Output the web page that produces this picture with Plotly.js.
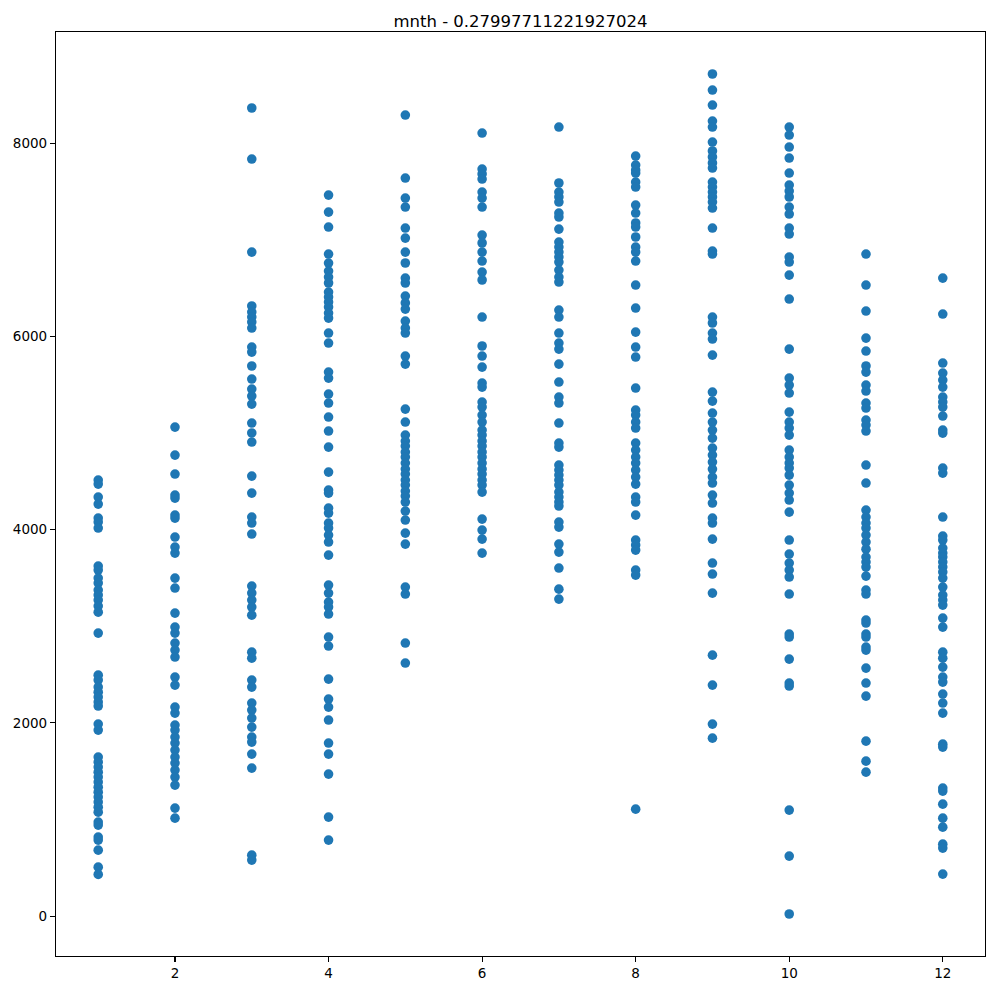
<!DOCTYPE html>
<html>
<head>
<meta charset="utf-8">
<script src="https://cdn.plot.ly/plotly-3.0.1.min.js"></script>
<style>
html, body { margin: 0; padding: 0; background: #ffffff; }
#chart { width: 994px; height: 990px; }
</style>
</head>
<body>
<div id="chart"></div>
<script>
// Month (x) categories
const months = [1, 2, 3, 4, 5, 6, 7, 8, 9, 10, 11, 12];

// Daily counts (cnt), one array per month
const cnt_m1 = [4513, 4471, 4337, 4264, 4119, 4078, 4016, 3623, 3581, 3498, 3447, 3374, 3322, 3271, 3209, 3146, 2929, 2494, 2443, 2370, 2318, 2267, 2215, 2174, 1987, 1925, 1646, 1594, 1542, 1490, 1439, 1387, 1335, 1283, 1232, 1180, 1128, 1076, 973, 942, 818, 787, 683, 507, 431];
const cnt_m2 = [5061, 4771, 4575, 4357, 4326, 4150, 4119, 3923, 3819, 3757, 3498, 3395, 3136, 2991, 2929, 2826, 2753, 2681, 2474, 2391, 2163, 2101, 1977, 1925, 1853, 1791, 1718, 1646, 1584, 1511, 1439, 1356, 1118, 1014];
const cnt_m3 = [8363, 7835, 6872, 6314, 6251, 6200, 6148, 6086, 5889, 5837, 5693, 5558, 5454, 5382, 5299, 5103, 5000, 4906, 4554, 4378, 4130, 4068, 3954, 3416, 3343, 3271, 3198, 3115, 2732, 2670, 2443, 2370, 2205, 2132, 2050, 1956, 1853, 1801, 1677, 1532, 631, 580];
const cnt_m4 = [7462, 7286, 7131, 6852, 6758, 6676, 6614, 6552, 6458, 6407, 6355, 6303, 6241, 6189, 6034, 5931, 5630, 5568, 5403, 5310, 5165, 5020, 4854, 4595, 4409, 4378, 4223, 4171, 4068, 4016, 3943, 3871, 3736, 3426, 3343, 3250, 3198, 3126, 2888, 2795, 2453, 2246, 2163, 2029, 1791, 1677, 1470, 1025, 787];
const cnt_m5 = [8290, 7638, 7431, 7338, 7121, 7017, 6872, 6759, 6603, 6552, 6417, 6345, 6282, 6158, 6086, 6034, 5796, 5713, 5247, 5113, 4978, 4916, 4865, 4802, 4751, 4689, 4626, 4575, 4513, 4461, 4399, 4347, 4285, 4192, 4099, 3964, 3850, 3405, 3333, 2826, 2619];
const cnt_m6 = [8104, 7731, 7680, 7628, 7493, 7431, 7338, 7048, 6966, 6872, 6779, 6665, 6583, 6200, 5900, 5796, 5682, 5516, 5475, 5320, 5268, 5185, 5113, 5030, 4978, 4916, 4865, 4802, 4751, 4689, 4626, 4575, 4513, 4461, 4388, 4109, 3995, 3902, 3757];
const cnt_m7 = [8166, 7587, 7493, 7442, 7390, 7276, 7235, 7110, 6976, 6924, 6872, 6821, 6769, 6686, 6614, 6562, 6272, 6200, 6034, 5931, 5868, 5713, 5527, 5372, 5310, 5103, 4896, 4854, 4668, 4616, 4564, 4513, 4461, 4388, 4337, 4285, 4244, 4078, 4026, 3850, 3767, 3602, 3384, 3281];
const cnt_m8 = [7866, 7773, 7721, 7690, 7597, 7545, 7359, 7276, 7173, 7131, 7028, 6924, 6872, 6779, 6531, 6293, 6044, 5889, 5786, 5465, 5237, 5185, 5113, 5051, 4896, 4823, 4751, 4689, 4616, 4544, 4471, 4337, 4285, 4150, 3892, 3840, 3788, 3581, 3529, 1107];
const cnt_m9 = [8715, 8549, 8394, 8228, 8166, 8011, 7918, 7856, 7794, 7742, 7597, 7545, 7493, 7442, 7390, 7328, 7121, 6883, 6852, 6200, 6138, 6034, 5972, 5806, 5423, 5330, 5206, 5113, 5030, 4947, 4844, 4771, 4699, 4626, 4544, 4482, 4357, 4275, 4119, 4068, 3902, 3654, 3540, 3343, 2701, 2391, 1987, 1842];
const cnt_m10 = [8166, 8083, 7959, 7845, 7690, 7566, 7504, 7442, 7338, 7266, 7121, 7059, 6821, 6769, 6634, 6386, 5868, 5568, 5496, 5413, 5216, 5113, 5051, 4978, 4823, 4751, 4689, 4637, 4564, 4461, 4378, 4306, 4181, 3892, 3747, 3654, 3581, 3509, 3333, 2919, 2888, 2660, 2412, 2381, 1097, 621, 22];
const cnt_m11 = [6852, 6531, 6262, 5982, 5848, 5693, 5630, 5496, 5434, 5310, 5258, 5134, 5082, 5020, 4668, 4482, 4202, 4130, 4068, 4016, 3943, 3871, 3798, 3716, 3664, 3612, 3519, 3374, 3333, 3064, 3033, 2919, 2888, 2784, 2753, 2567, 2412, 2277, 1811, 1604, 1490];
const cnt_m12 = [6603, 6231, 5724, 5620, 5548, 5475, 5372, 5320, 5268, 5175, 5030, 4999, 4637, 4585, 4130, 3933, 3892, 3809, 3757, 3716, 3664, 3612, 3560, 3498, 3405, 3322, 3271, 3219, 3084, 2991, 2732, 2670, 2577, 2474, 2422, 2298, 2205, 2101, 1780, 1749, 1325, 1294, 1159, 1014, 921, 745, 704, 435];

// Tick labels
const xTickVals = [2, 4, 6, 8, 10, 12];
const yTickVals = [0, 2000, 4000, 6000, 8000];
const titleText = "mnth - 0.27997711221927024";

const perMonth = [cnt_m1, cnt_m2, cnt_m3, cnt_m4, cnt_m5, cnt_m6, cnt_m7, cnt_m8, cnt_m9, cnt_m10, cnt_m11, cnt_m12];
const xs = [], ys = [];
months.forEach((m, i) => {
  perMonth[i].forEach(v => { xs.push(m); ys.push(v); });
});

// matplotlib-like 5% margins
const xmin = Math.min(...months), xmax = Math.max(...months);
const ymin = Math.min(...ys), ymax = Math.max(...ys);
const xpad = (xmax - xmin) * 0.05, ypad = (ymax - ymin) * 0.05;

const font = "DejaVu Sans, sans-serif";

const trace = {
  type: "scatter",
  mode: "markers",
  x: xs,
  y: ys,
  marker: { color: "#1f77b4", size: 9.6, line: { width: 0 } },
  hoverinfo: "x+y"
};

const axisCommon = {
  showgrid: false,
  zeroline: false,
  showline: true,
  linecolor: "#000000",
  linewidth: 1.1,
  mirror: true,
  ticks: "outside",
  ticklen: 5,
  tickwidth: 1.1,
  tickcolor: "#000000",
  tickfont: { family: font, size: 13.5, color: "#000000" },
  tickmode: "array"
};

const layout = {
  width: 994,
  height: 990,
  paper_bgcolor: "#ffffff",
  plot_bgcolor: "#ffffff",
  margin: { l: 56, r: 9, t: 32, b: 34, pad: 0 },
  showlegend: false,
  title: {
    text: titleText,
    font: { family: font, size: 16.5, color: "#000000" },
    x: 0.5, xref: "paper", xanchor: "center",
    y: 1 - 27 / 990, yref: "container", yanchor: "bottom"
  },
  xaxis: Object.assign({}, axisCommon, {
    range: [xmin - xpad, xmax + xpad],
    tickvals: xTickVals,
    ticktext: xTickVals.map(String)
  }),
  yaxis: Object.assign({}, axisCommon, {
    range: [ymin - ypad, ymax + ypad],
    tickvals: yTickVals,
    ticktext: yTickVals.map(String)
  })
};

Plotly.newPlot("chart", [trace], layout, { displayModeBar: false, staticPlot: true });
</script>
</body>
</html>
